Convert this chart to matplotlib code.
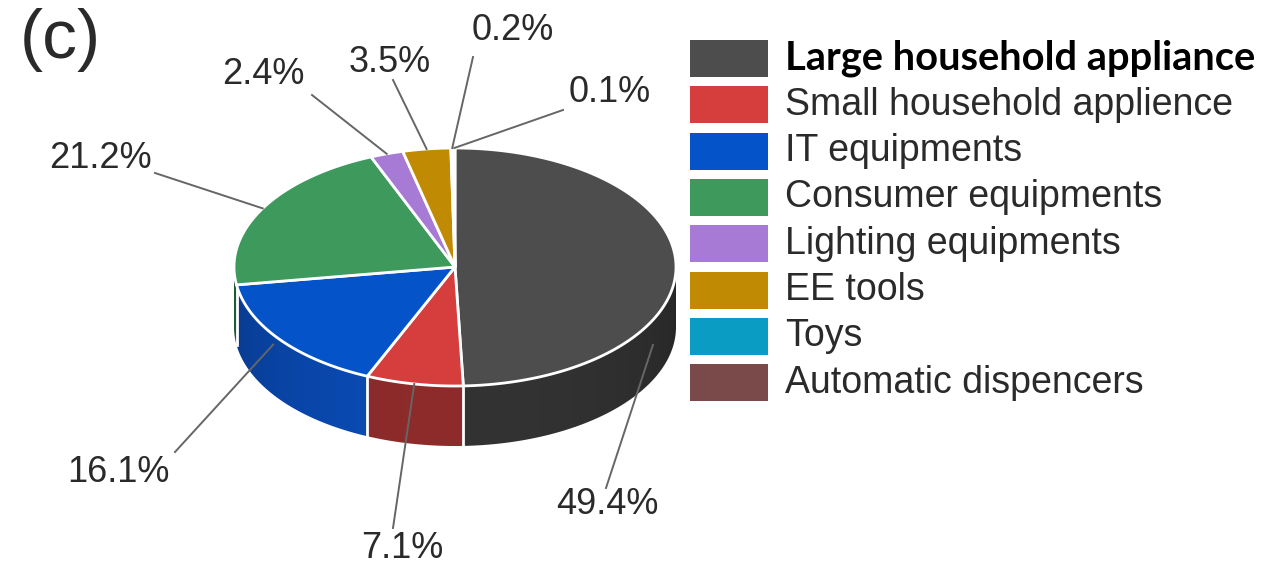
import numpy as np
import matplotlib.pyplot as plt
from matplotlib.patches import Polygon, Rectangle
from matplotlib.colors import to_rgb

# WEEE categories and their share of the total (%), clockwise from 12 o'clock
categories = ['Large household appliance', 'Small household applience', 'IT equipments',
              'Consumer equipments', 'Lighting equipments', 'EE tools', 'Toys',
              'Automatic dispencers']
shares = [49.4, 7.1, 16.1, 21.2, 2.4, 3.5, 0.2, 0.1]

top_colors = ['#4d4d4d', '#d63d3d', '#0553c9', '#3d9a5c', '#a77ad6', '#c18a03', '#0b9cc4', '#7a4a4a']
side_colors = ['#333333', '#8e2b2b', '#0a4bb5', '#2c7445', '#7a55a6', '#8f6602', '#08779a', '#5a3434']

# pie geometry in pixel units
cx, cy = 455, 267
rx, ry = 221, 119
depth = 60

# label text centres and leader anchor tweaks (angle offset in deg, drop down the side in px)
label_pos = [(607, 505), (402, 548), (118, 473), (100, 158), (263, 75), (390, 62), (513, 30), (610, 92)]
leader_start = [(606, 488), (393, 528), (175, 452), (155, 173), (312, 95), (393, 80), (473, 57), (563, 110)]
anchor_tweak = [(-27.5, 25), (0, 0), (-3, 10), (0, 0), (0, 0), (0, 0), (0, 0), (0, 0)]


def rim(theta):
    t = np.radians(theta)
    return cx + rx * np.cos(t), cy - ry * np.sin(t)


fig = plt.figure(figsize=(12.81, 5.72), dpi=100)
ax = fig.add_axes([0, 0, 1, 1])
ax.set_xlim(0, 1281)
ax.set_ylim(572, 0)
ax.axis('off')

# slice angle ranges, going clockwise from the top
spans = [v * 3.6 for v in shares]
bounds = []
start = 90.0
for s in spans:
    bounds.append((start - s, start))
    start -= s

# horizontal shading of the side wall: brightest at the front, darker towards the edges
xs = np.linspace(cx - rx, cx + rx, 400)
u = np.clip((xs - cx) / rx, -1, 1)
light = 0.75 + 0.25 * np.sqrt(1 - u ** 2)

# side walls (only the front half is visible)
for (t1, t2), col in zip(bounds, side_colors):
    t1n = t1 % 360
    t2n = t1n + (t2 - t1)
    lo, hi = max(t1n, 180), min(t2n, 360)
    if hi <= lo:
        continue
    arc = np.linspace(lo, hi, 200)
    upper = [rim(a) for a in arc]
    lower = [(x, y + depth) for x, y in upper[::-1]]
    wall = Polygon(upper + lower, closed=True, facecolor='none', edgecolor='none')
    ax.add_patch(wall)
    img = np.outer(np.ones(2), light)[:, :, None] * np.array(to_rgb(col))[None, None, :]
    im = ax.imshow(img, extent=(cx - rx, cx + rx, cy + ry + depth + 2, cy - 2),
                   aspect='auto', interpolation='bilinear', zorder=1)
    im.set_clip_path(wall)

ax.set_xlim(0, 1281)
ax.set_ylim(572, 0)

# white seams between side walls
for t1, t2 in bounds:
    a = t1 % 360
    if 180 < a < 360:
        x, y = rim(a)
        ax.plot([x, x], [y, y + depth], color='white', lw=2, zorder=2)

# top faces
for (t1, t2), col in zip(bounds, top_colors):
    arc = np.linspace(t1, t2, max(3, int(t2 - t1) * 2 + 3))
    pts = [(cx, cy)] + [rim(a) for a in arc]
    ax.add_patch(Polygon(pts, closed=True, facecolor=col, edgecolor='white', lw=2,
                         joinstyle='round', zorder=3))

# percentage labels with leader lines
for (t1, t2), v, (lx, ly), (sx, sy), (da, dz) in zip(bounds, shares, label_pos,
                                                     leader_start, anchor_tweak):
    ex, ey = rim((t1 + t2) / 2 + da)
    ax.plot([sx, ex], [sy, ey + dz], color='#666666', lw=1.4, zorder=4)
    ax.text(lx, ly, f'{v:.1f}%', ha='center', va='center', fontsize=26,
            family='Liberation Sans', color='#2a2a2a', zorder=5)

# legend
row_top = 40
row_step = 46.3
for i, (name, col) in enumerate(zip(categories, top_colors)):
    y = row_top + i * row_step
    ax.add_patch(Rectangle((690, y), 78, 37, facecolor=col, edgecolor='none', zorder=3))
    if i == 0:
        ax.text(785, y + 18.5, name, ha='left', va='center', fontsize=28.7,
                family='Lato', fontweight='bold', color='black', zorder=5)
    else:
        ax.text(785, y + 18.5, name, ha='left', va='center', fontsize=27,
                family='Liberation Sans', color='#2a2a2a', zorder=5)

ax.text(20, 40, '(c)', ha='left', va='center', fontsize=50, family='Liberation Sans',
        color='#2a2a2a')

fig.savefig('out.png', dpi=100)
